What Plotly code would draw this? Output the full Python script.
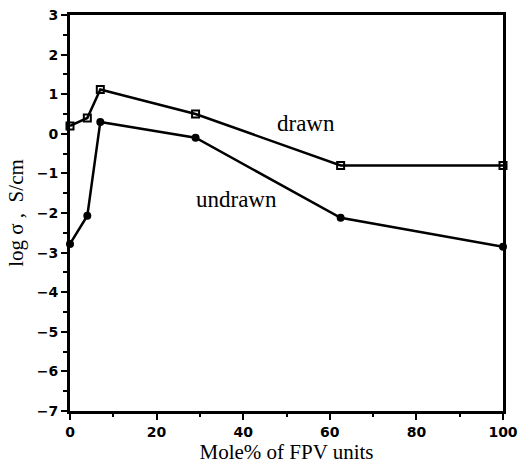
import plotly.graph_objects as go

mole_pct = [0, 4, 7, 29, 62.5, 100]
drawn = [0.2, 0.4, 1.12, 0.5, -0.8, -0.8]
undrawn = [-2.78, -2.07, 0.3, -0.1, -2.12, -2.85]

y_ticks = [-7, -6, -5, -4, -3, -2, -1, 0, 1, 2, 3]
x_ticks = [0, 20, 40, 60, 80, 100]

fig = go.Figure()
fig.add_trace(go.Scatter(x=mole_pct, y=drawn, mode="lines+markers",
                         line=dict(color="black", width=2.5),
                         marker=dict(symbol="square-open", size=7, color="black",
                                     line=dict(width=2)),
                         cliponaxis=False, showlegend=False))
fig.add_trace(go.Scatter(x=mole_pct, y=undrawn, mode="lines+markers",
                         line=dict(color="black", width=2.5),
                         marker=dict(symbol="circle", size=8, color="black"),
                         cliponaxis=False, showlegend=False))

fig.add_annotation(x=54.5, y=0.25, text="drawn", showarrow=False,
                   font=dict(family="Liberation Serif, serif", size=23, color="black"))
fig.add_annotation(x=38.5, y=-1.65, text="undrawn", showarrow=False,
                   font=dict(family="Liberation Serif, serif", size=23, color="black"))

tickfont = dict(family="DejaVu Sans, sans-serif", size=14, color="black", weight="bold")
fig.update_xaxes(range=[0, 100], tickvals=x_ticks, ticks="outside", ticklen=6,
                 tickwidth=2, tickcolor="black", ticklabeloverflow="allow",
                 minor=dict(dtick=10, ticks="outside", ticklen=3, tickwidth=2, tickcolor="black"),
                 showline=True, linecolor="black", linewidth=3, mirror=True,
                 showgrid=False, zeroline=False, tickfont=tickfont,
                 title=dict(text="Mole% of FPV units", standoff=4,
                            font=dict(family="Liberation Serif, serif", size=21, color="black")))
fig.update_yaxes(range=[-7, 3], tickvals=y_ticks, ticks="outside", ticklen=6,
                 tickwidth=2, tickcolor="black",
                 minor=dict(dtick=0.5, ticks="outside", ticklen=4, tickwidth=2, tickcolor="black"),
                 showline=True, linecolor="black", linewidth=3, mirror=True,
                 showgrid=False, zeroline=False, tickfont=tickfont,
                 title=dict(text="log σ ,  S/cm", standoff=8,
                            font=dict(family="Liberation Serif, serif", size=21, color="black")))

fig.update_layout(width=518, height=466, plot_bgcolor="white", paper_bgcolor="white",
                  margin=dict(l=70, r=15, t=15, b=55, autoexpand=False))

fig.write_html("out.html", config={"displayModeBar": False},
               post_script="document.body.style.margin='0';document.body.style.overflow='hidden';")
